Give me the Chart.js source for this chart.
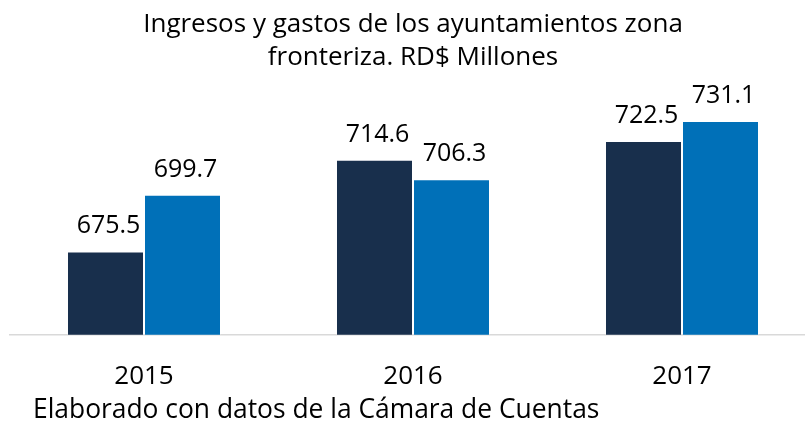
<!DOCTYPE html>
<html>
<head>
<meta charset="utf-8">
<script src="https://cdn.jsdelivr.net/npm/chart.js@4.4.1/dist/chart.umd.min.js"></script>
<style>
  html, body { margin: 0; padding: 0; background: #fff; overflow: hidden; }
  #wrap { width: 826px; height: 424px; }
</style>
</head>
<body>
<div id="wrap"><canvas id="IngresosGastos" width="826" height="424"></canvas></div>
<script>
    // datos (RD$ millones)
    var years = ['2015', '2016', '2017'];
    var ingresos = [675.5, 714.6, 722.5];
    var gastos = [699.7, 706.3, 731.1];
    var titleLines = ['Ingresos y gastos de los ayuntamientos zona', 'fronteriza. RD$ Millones'];
    var footerText = 'Elaborado con datos de la Cámara de Cuentas';

    var FONT = "'Open Sans', 'Noto Sans', sans-serif";

    // etiquetas de valor sobre cada barra
    var valueLabels = {
        id: 'valueLabels',
        afterDatasetsDraw: function (chart) {
            var ctx = chart.ctx;
            ctx.save();
            ctx.fillStyle = '#000';
            ctx.font = '25px ' + FONT;
            ctx.textAlign = 'center';
            ctx.textBaseline = 'alphabetic';
            chart.data.datasets.forEach(function (ds, i) {
                chart.getDatasetMeta(i).data.forEach(function (bar, j) {
                    ctx.fillText(ds.data[j].toFixed(1), bar.x + 3, bar.y - 18);
                });
            });
            ctx.restore();
        }
    };

    // nota al pie
    var footNote = {
        id: 'footNote',
        afterDraw: function (chart) {
            var ctx = chart.ctx;
            ctx.save();
            ctx.fillStyle = '#000';
            ctx.font = '26.4px ' + FONT;
            ctx.textAlign = 'left';
            ctx.textBaseline = 'middle';
            ctx.fillText(footerText, 33, 410);
            ctx.restore();
        }
    };

    new Chart(document.getElementById('IngresosGastos'), {
        type: 'bar',
        data: {
            labels: years,
            datasets: [
                {
                    label: 'Ingresos',
                    backgroundColor: '#182F4C',
                    borderColor: 'rgba(255,255,255,0.25)',
                    borderWidth: 1,
                    data: ingresos
                },
                {
                    label: 'Gastos',
                    backgroundColor: '#0070B8',
                    borderColor: 'rgba(255,255,255,0.25)',
                    borderWidth: 1,
                    data: gastos
                }
            ]
        },
        options: {
            responsive: false,
            animation: false,
            layout: {
                padding: { left: 9.5, right: 9.5, top: 0, bottom: 14 }
            },
            datasets: {
                bar: { barPercentage: 1, categoryPercentage: 0.5725 }
            },
            scales: {
                x: {
                    grid: { display: false },
                    border: { display: true, color: '#d9d9d9', width: 1.5 },
                    ticks: {
                        color: '#000',
                        padding: 18,
                        font: { family: FONT, size: 26 }
                    }
                },
                y: {
                    display: false,
                    min: 640,
                    max: 740
                }
            },
            plugins: {
                legend: { display: false },
                tooltip: { enabled: false },
                title: {
                    display: true,
                    text: titleLines,
                    color: '#000',
                    font: { family: FONT, size: 26, weight: 'normal', lineHeight: 1.27 },
                    padding: { top: 8, bottom: 26 }
                }
            }
        },
        plugins: [valueLabels, footNote]
    });
</script>
</body>
</html>
